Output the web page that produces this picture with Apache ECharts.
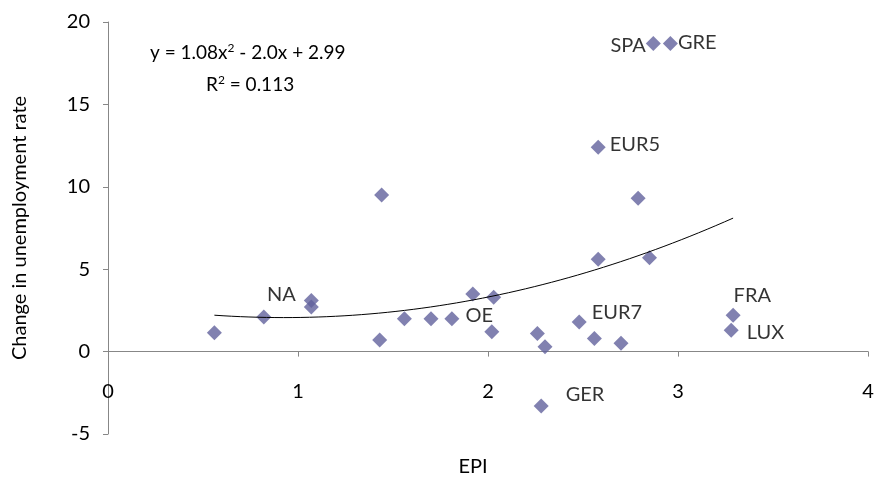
<!DOCTYPE html>
<html>
<head>
<meta charset="utf-8">
<script src="https://cdn.jsdelivr.net/npm/echarts@6/dist/echarts.min.js"></script>
<style>
  html, body { margin: 0; padding: 0; background: #fff; }
  #chart { width: 874px; height: 480px; }
</style>
</head>
<body>
<div id="chart"></div>
<script>
// Employment protection index vs. change in unemployment rate
const epi = [0.56, 0.82, 1.07, 1.07, 1.43, 1.44, 1.56, 1.70, 1.81, 1.92, 2.03, 2.02, 2.26,
             2.30, 2.48, 2.56, 2.70, 3.29, 3.28, 2.28, 2.58, 2.85, 2.87, 2.96, 2.58, 2.79];
const unempChange = [1.15, 2.1, 3.1, 2.7, 0.7, 9.5, 2.0, 2.0, 2.0, 3.5, 3.3, 1.2, 1.1,
                     0.3, 1.8, 0.8, 0.5, 2.2, 1.3, -3.3, 5.6, 5.7, 18.7, 18.7, 12.4, 9.3];
const pointNames = ['', '', 'NA', '', '', '', '', '', 'OE', '', '', '', '', '',
                    'EUR7', '', '', 'FRA', 'LUX', 'GER', '', '', 'SPA', 'GRE', 'EUR5', ''];

// quadratic trend: y = a x^2 + b x + c
const trendCoef = [1.08, -2.0, 2.99];
const trendLabel = ['y = 1.08x', '2', ' - 2.0x + 2.99'];
const r2Label = ['R', '2', ' = 0.113'];

const xTicks = { min: 0, max: 4, interval: 1 };
const yTicks = { min: -5, max: 20, interval: 5 };

// where each country label sits relative to its marker
const labelPlacement = {
  NA:   { position: 'left',  distance: 8,  offset: [0, -6] },
  OE:   { position: 'right', distance: 6,  offset: [0, -3] },
  EUR7: { position: 'right', distance: 5,  offset: [0, -9] },
  FRA:  { position: 'right', distance: 5,  offset: [-12, -20] },
  LUX:  { position: 'right', distance: 8,  offset: [0, 2] },
  GER:  { position: 'right', distance: 17, offset: [0, -11] },
  SPA:  { position: 'left',  distance: 0,  offset: [0, 2] },
  GRE:  { position: 'right', distance: 0,  offset: [0, -1] },
  EUR5: { position: 'right', distance: 4,  offset: [0, -3] }
};

const FONT = 'Lato';
const axisGray = '#878787';

const points = epi.map((x, i) => {
  const item = { value: [x, unempChange[i]] };
  const name = pointNames[i];
  if (name) {
    item.name = name;
    const p = labelPlacement[name];
    item.label = {
      show: true, formatter: name, position: p.position,
      distance: p.distance, offset: p.offset,
      fontFamily: FONT, fontSize: 20, color: '#000'
    };
  }
  return item;
});

// trend curve sampled across the data's x range
const xLo = Math.min(...epi), xHi = Math.max(...epi);
const trend = [];
for (let k = 0; k <= 60; k++) {
  const x = xLo + (xHi - xLo) * k / 60;
  trend.push([x, trendCoef[0] * x * x + trendCoef[1] * x + trendCoef[2]]);
}

const richEq = {
  b: { fontFamily: FONT, fontSize: 19, fill: '#000', color: '#000' },
  s: { fontFamily: FONT, fontSize: 12, fill: '#000', color: '#000', verticalAlign: 'top', padding: [0, 0, 10, 0] }
};

const chart = echarts.init(document.getElementById('chart'), null, { renderer: 'canvas' });
chart.setOption({
  animation: false,
  grid: { left: 108, right: 6, top: 22, bottom: 46, outerBoundsMode: 'none', containLabel: false },
  xAxis: {
    type: 'value', min: xTicks.min, max: xTicks.max, interval: xTicks.interval,
    name: 'EPI', nameLocation: 'middle', nameGap: 23, nameMoveOverlap: false,
    nameTextStyle: { fontFamily: FONT, fontSize: 20, color: '#000', padding: [0, 30, 0, 0] },
    axisLine: { onZero: true, lineStyle: { color: axisGray, width: 1 } },
    axisTick: { show: true, length: 5, inside: false, lineStyle: { color: axisGray } },
    axisLabel: { margin: -52, fontFamily: FONT, fontSize: 20, color: '#000' },
    splitLine: { show: false }
  },
  yAxis: {
    type: 'value', min: yTicks.min, max: yTicks.max, interval: yTicks.interval,
    name: 'Change in unemployment rate', nameLocation: 'middle', nameGap: 78, nameRotate: 90,
    nameMoveOverlap: false,
    nameTextStyle: { fontFamily: FONT, fontSize: 20, color: '#000' },
    axisLine: { show: true, onZero: false, lineStyle: { color: axisGray, width: 1 } },
    axisTick: { show: true, length: 5, lineStyle: { color: axisGray } },
    axisLabel: { margin: 18, fontFamily: FONT, fontSize: 20, color: '#000' },
    splitLine: { show: false }
  },
  series: [
    {
      type: 'scatter', data: points, symbol: 'diamond', symbolSize: 15,
      itemStyle: { color: '#62629C' }, z: 2
    },
    {
      type: 'line', data: trend, showSymbol: false, symbol: 'none',
      lineStyle: { color: '#000', width: 1 }, silent: true, z: 3
    }
  ],
  graphic: [
    {
      type: 'text', left: 150, top: 42, z: 10,
      style: { text: '{b|' + trendLabel[0] + '}{s|' + trendLabel[1] + '}{b|' + trendLabel[2] + '}', rich: richEq }
    },
    {
      type: 'text', left: 206, top: 74, z: 10,
      style: { text: '{b|' + r2Label[0] + '}{s|' + r2Label[1] + '}{b|' + r2Label[2] + '}', rich: richEq }
    }
  ]
});
</script>
</body>
</html>
